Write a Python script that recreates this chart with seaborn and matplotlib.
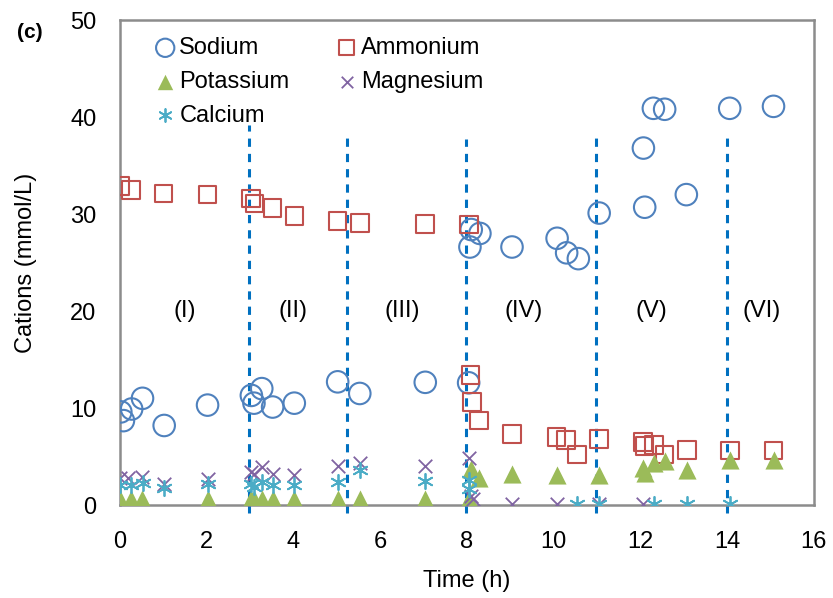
import numpy as np
import pandas as pd
import matplotlib
matplotlib.use("Agg")
import matplotlib.pyplot as plt
from matplotlib import font_manager
import seaborn as sns

# Data (time in h, concentration in mmol/L)
sodium_t = [0.02, 0.08, 0.27, 0.52, 1.02, 2.02, 3.03, 3.09, 3.27, 3.52, 4.02, 5.02, 5.53, 7.04,
            8.04, 8.07, 8.1, 8.3, 9.04, 10.08, 10.3, 10.57, 11.05, 12.07, 12.1, 12.3, 12.56, 13.06,
            14.06, 15.07]
sodium_c = [9.6, 8.7, 9.9, 11.0, 8.2, 10.3, 11.3, 10.5, 12.0, 10.1, 10.5, 12.7, 11.5, 12.65,
            12.6, 26.6, 28.4, 28.0, 26.6, 27.5, 26.0, 25.4, 30.1, 36.8, 30.7, 40.9, 40.8, 32.0,
            40.9, 41.1]

ammonium_t = [0.0, 0.25, 1.0, 2.02, 3.02, 3.1, 3.52, 4.02, 5.02, 5.53, 7.04, 8.05, 8.08, 8.12,
              8.28, 9.04, 10.07, 10.29, 10.54, 11.05, 12.06, 12.1, 12.31, 12.56, 13.07, 14.07, 15.07]
ammonium_c = [32.9, 32.5, 32.1, 32.0, 31.6, 31.1, 30.6, 29.8, 29.3, 29.1, 29.0, 28.9, 13.4, 10.6,
              8.7, 7.3, 7.0, 6.7, 5.2, 6.8, 6.5, 6.1, 6.2, 5.2, 5.7, 5.6, 5.6]

potassium_t = [0.0, 0.25, 0.5, 2.02, 3.03, 3.08, 3.27, 3.52, 4.02, 5.02, 5.53, 7.04, 8.04, 8.1,
               8.28, 9.04, 10.07, 11.05, 12.06, 12.1, 12.31, 12.56, 13.07, 14.07, 15.07]
potassium_c = [0.6, 0.6, 0.6, 0.6, 0.6, 0.6, 0.6, 0.6, 0.6, 0.6, 0.6, 0.6, 0.6, 3.7,
               2.8, 3.2, 3.1, 3.1, 3.8, 3.3, 4.3, 4.5, 3.6, 4.6, 4.6]

magnesium_t = [0.0, 0.19, 0.5, 1.02, 2.02, 3.03, 3.1, 3.27, 3.52, 4.02, 5.02, 5.53, 7.04, 8.04,
               8.09, 8.15, 9.04, 10.07, 11.05, 12.06]
magnesium_c = [2.75, 2.8, 2.9, 2.2, 2.65, 3.4, 3.2, 3.9, 3.2, 3.1, 4.0, 4.3, 4.0, 4.8,
               0.9, 0.6, 0.1, 0.1, 0.1, 0.1]

calcium_t = [0.0, 0.25, 0.52, 1.02, 2.02, 3.03, 3.1, 3.27, 3.52, 4.02, 5.02, 5.53, 7.04, 8.04,
             8.06, 10.54, 11.05, 12.31, 13.07, 14.07]
calcium_c = [2.05, 2.05, 2.3, 1.8, 2.2, 2.2, 1.9, 2.4, 2.05, 2.05, 2.4, 3.6, 2.5, 2.55,
             1.7, 0.1, 0.1, 0.15, 0.15, 0.15]

phase_bounds = [2.97, 5.23, 7.98, 10.97, 14.0]
phase_line_top = [39.2, 38.4, 37.7, 38.4, 38.4]
phase_labels = ["(I)", "(II)", "(III)", "(IV)", "(V)", "(VI)"]
phase_label_x = [1.5, 4.0, 6.5, 9.3, 12.25, 14.8]

sns.set_style("white")
installed = {f.name for f in font_manager.fontManager.ttflist}
if "Liberation Sans Narrow" in installed:
    plt.rcParams["font.family"] = ["Liberation Sans Narrow", "DejaVu Sans"]
    fs = 19
else:
    plt.rcParams["font.family"] = ["Liberation Sans", "DejaVu Sans"]
    fs = 17
plt.rcParams["text.color"] = "black"
plt.rcParams["axes.labelcolor"] = "black"
plt.rcParams["xtick.labelcolor"] = "black"
plt.rcParams["ytick.labelcolor"] = "black"

fig = plt.figure(figsize=(8.33, 5.98), dpi=100)
ax = fig.add_axes([0.144, 0.1555, 0.833, 0.811])

series = [
    ("Sodium", sodium_t, sodium_c, "o", "#4F81BD", True, 240),
    ("Ammonium", ammonium_t, ammonium_c, "s", "#C0504D", True, 160),
    ("Potassium", potassium_t, potassium_c, "^", "#9BBB59", False, 170),
    ("Magnesium", magnesium_t, magnesium_c, "x", "#8064A2", False, 95),
    ("Calcium", calcium_t, calcium_c, (6, 2, 0), "#4BACC6", False, 120),
]

for name, t, c, mk, col, hollow, size in series:
    df = pd.DataFrame({"t": t, "c": c})
    if hollow:
        sns.scatterplot(data=df, x="t", y="c", marker=mk, s=size, facecolors="none",
                        edgecolor=col, linewidth=1.5, ax=ax, label=name, zorder=3)
    else:
        sns.scatterplot(data=df, x="t", y="c", marker=mk, s=size, color=col,
                        linewidth=1.3 if mk != "^" else 0, ax=ax, label=name, zorder=3)

for xb, top in zip(phase_bounds, phase_line_top):
    ax.plot([xb, xb], [-0.8, top], color="#0070C0", lw=2.2, ls=(0, (2.7, 2.3)),
            zorder=2, clip_on=False)

for lab, lx in zip(phase_labels, phase_label_x):
    ax.text(lx, 20, lab, ha="center", va="center", fontsize=fs)

ax.set_xlim(0, 16)
ax.set_ylim(0, 50)
ax.set_xticks(np.arange(0, 17, 2))
ax.set_yticks(np.arange(0, 51, 10))
ax.tick_params(axis="x", direction="in", length=6, width=1.5, color="#8c8c8c",
               labelsize=fs, pad=19)
ax.tick_params(axis="y", length=0, labelsize=fs, pad=17)
for sp in ax.spines.values():
    sp.set_color("#8c8c8c")
    sp.set_linewidth(1.8)
ax.set_xlabel("Time (h)", fontsize=fs, labelpad=12)
ax.set_ylabel("Cations (mmol/L)", fontsize=fs, labelpad=24)

h, l = ax.get_legend_handles_labels()
order = [l.index(n) for n in ["Sodium", "Potassium", "Calcium", "Ammonium", "Magnesium"]]
ax.legend([h[i] for i in order], [l[i] for i in order], ncol=2, loc="upper left",
          bbox_to_anchor=(0.055, 0.965), frameon=False, fontsize=fs, handlelength=0.6,
          handletextpad=0.3, columnspacing=2.13, labelspacing=0.5, borderpad=0,
          borderaxespad=0, markerscale=0.85)

fig.text(0.036, 0.946, "(c)", fontsize=15, fontweight="bold", ha="center", va="center")

fig.savefig("out.png", dpi=100)
